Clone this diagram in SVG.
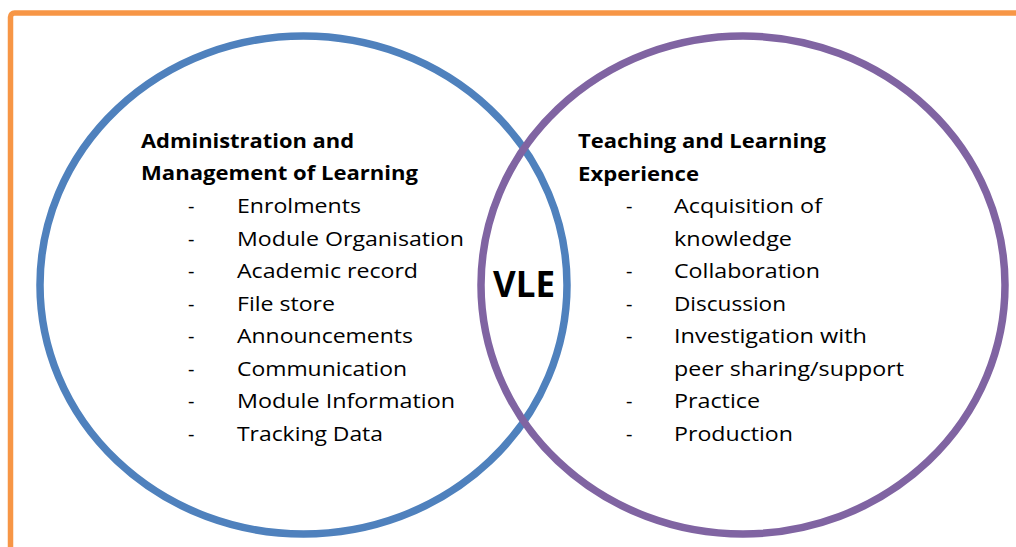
<svg xmlns="http://www.w3.org/2000/svg" width="1016" height="547" viewBox="0 0 1016 547">
<style>
.hd{font-family:"Open Sans","Liberation Sans",sans-serif;font-weight:bold;font-size:19px;fill:#000}
.it{font-family:"Open Sans","Liberation Sans",sans-serif;font-size:20px;fill:#000}
.vle{font-family:"Open Sans","Liberation Sans",sans-serif;font-weight:bold;font-size:35px;fill:#000}
.ring{fill:none;stroke-width:7.5}
</style>
<rect id="frame" x="10.5" y="13" width="1100" height="600" rx="4" fill="none" stroke="#F79646" stroke-width="5.5"/>
<g id="admin">
<ellipse class="ring" cx="303.5" cy="285" rx="263.5" ry="249" stroke="#4F81BD"/>
<text class="hd" x="141" y="148" textLength="213" lengthAdjust="spacingAndGlyphs">Administration and</text>
<text class="hd" x="141" y="180" textLength="277" lengthAdjust="spacingAndGlyphs">Management of Learning</text>
<g class="it">
<text x="188" y="213">-</text><text x="237" y="213" textLength="124" lengthAdjust="spacingAndGlyphs">Enrolments</text>
<text x="188" y="245.5">-</text><text x="237" y="245.5" textLength="227" lengthAdjust="spacingAndGlyphs">Module Organisation</text>
<text x="188" y="278">-</text><text x="237" y="278" textLength="181" lengthAdjust="spacingAndGlyphs">Academic record</text>
<text x="188" y="310.5">-</text><text x="237" y="310.5" textLength="98" lengthAdjust="spacingAndGlyphs">File store</text>
<text x="188" y="343">-</text><text x="237" y="343" textLength="176" lengthAdjust="spacingAndGlyphs">Announcements</text>
<text x="188" y="375.5">-</text><text x="237" y="375.5" textLength="170" lengthAdjust="spacingAndGlyphs">Communication</text>
<text x="188" y="408">-</text><text x="237" y="408" textLength="218" lengthAdjust="spacingAndGlyphs">Module Information</text>
<text x="188" y="440.5">-</text><text x="237" y="440.5" textLength="146" lengthAdjust="spacingAndGlyphs">Tracking Data</text>
</g>
</g>
<g id="teaching">
<ellipse class="ring" cx="743" cy="285" rx="262" ry="249" stroke="#8064A2"/>
<text class="hd" x="578" y="148" textLength="248" lengthAdjust="spacingAndGlyphs">Teaching and Learning</text>
<text class="hd" x="578" y="181" textLength="121" lengthAdjust="spacingAndGlyphs">Experience</text>
<g class="it">
<text x="626" y="213">-</text><text x="674" y="213" textLength="148" lengthAdjust="spacingAndGlyphs">Acquisition of</text>
<text x="674" y="246" textLength="118" lengthAdjust="spacingAndGlyphs">knowledge</text>
<text x="626" y="278">-</text><text x="674" y="278" textLength="146" lengthAdjust="spacingAndGlyphs">Collaboration</text>
<text x="626" y="310.5">-</text><text x="674" y="310.5" textLength="112" lengthAdjust="spacingAndGlyphs">Discussion</text>
<text x="626" y="343">-</text><text x="674" y="343" textLength="193" lengthAdjust="spacingAndGlyphs">Investigation with</text>
<text x="674" y="375.5" textLength="230" lengthAdjust="spacingAndGlyphs">peer sharing/support</text>
<text x="626" y="408">-</text><text x="674" y="408" textLength="86" lengthAdjust="spacingAndGlyphs">Practice</text>
<text x="626" y="440.5">-</text><text x="674" y="440.5" textLength="119" lengthAdjust="spacingAndGlyphs">Production</text>
</g>
</g>
<g id="vle">
<text class="vle" x="493" y="297" textLength="62" lengthAdjust="spacingAndGlyphs">VLE</text>
</g>
<g id="connectors"/>
</svg>
